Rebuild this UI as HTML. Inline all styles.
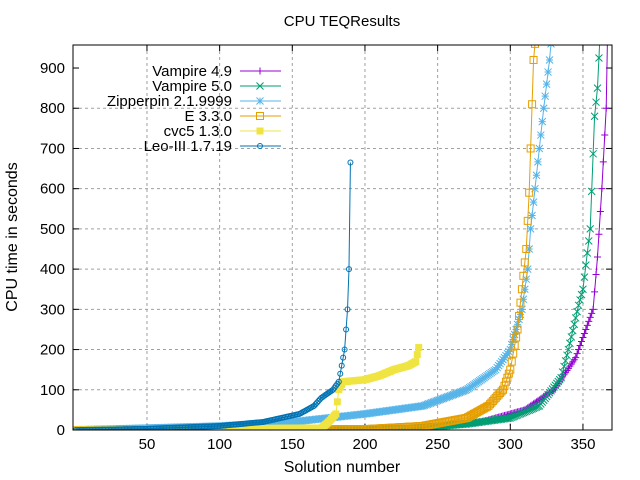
<!DOCTYPE html>
<html><head><meta charset="utf-8"><style>body{margin:0;background:#fff}svg{display:block;font-family:"Liberation Sans",sans-serif}</style></head>
<body>
<svg id="s" width="640" height="480" xmlns="http://www.w3.org/2000/svg">
<defs><clipPath id="c"><rect x="73" y="45" width="539" height="385"/></clipPath></defs>
<rect width="640" height="480" fill="#fff"/>
<g id="grid" stroke="#a0a0a0" stroke-dasharray="3,3" stroke-width="1"></g>
<g id="ticks" font-size="15" fill="#000"></g>
<g id="series" clip-path="url(#c)"></g>
<rect x="73" y="45" width="539" height="385" fill="none" stroke="#000"/>
<text x="342" y="26" font-size="15" text-anchor="middle">CPU TEQResults</text>
<text x="342" y="472" font-size="16" text-anchor="middle">Solution number</text>
<text transform="translate(17,237) rotate(-90)" font-size="16" text-anchor="middle">CPU time in seconds</text>
<g id="legend" font-size="15"></g>
</svg>
<script>
const NS="http://www.w3.org/2000/svg";
const X=n=>74.3+1.4533*n, Y=v=>430-0.4022*v;
function el(t,a,p){const e=document.createElementNS(NS,t);for(const k in a)e.setAttribute(k,a[k]);p.appendChild(e);return e;}
const g=document.getElementById('grid'),tk=document.getElementById('ticks');
for(let v=0;v<=900;v+=100){const y=Y(v);if(v>0&&v<900)el('line',{x1:73,x2:612,y1:y,y2:y},g);
el('line',{x1:73,x2:79,y1:y,y2:y,stroke:'#000'},tk);el('line',{x1:606,x2:612,y1:y,y2:y,stroke:'#000'},tk);
el('text',{x:65,y:y+5,'text-anchor':'end'},tk).textContent=v;}
for(let n=50;n<=350;n+=50){const x=X(n);el('line',{x1:x,x2:x,y1:45,y2:430},g);
el('line',{x1:x,x2:x,y1:430,y2:424,stroke:'#000'},tk);el('line',{x1:x,x2:x,y1:45,y2:51,stroke:'#000'},tk);
el('text',{x:x,y:449,'text-anchor':'middle'},tk).textContent=n;}
const S=[
["Vampire 4.9","#9400d3","plus",[[1,0],[230,3],[280,20],[310,50],[330,100],[345,180],[352,250],[357,300],[360,430],[363,600],[366,800],[367,1000]]],
["Vampire 5.0","#009e73","x",[[1,0],[230,3],[270,15],[300,30],[320,60],[335,130],[340,200],[347,310],[350,350],[355,500],[358,780],[360,850],[362,1000]]],
["Zipperpin 2.1.9999","#56b4e9","star",[[1,0],[100,10],[150,20],[200,40],[240,60],[270,100],[290,150],[300,200],[308,300],[312,400],[314,500],[317,600],[320,700],[323,800],[327,920],[329,1000]]],
["E 3.3.0","#e69f00","box",[[1,0],[200,2],[240,10],[270,30],[285,60],[295,100],[300,150],[305,250],[308,350],[311,450],[313,590],[316,920],[318,1000]]],
["cvc5 1.3.0","#f0e442","fbox",[[1,0],[170,5],[175,20],[180,40],[182,100],[185,120],[200,125],[210,135],[220,150],[230,160],[235,170],[237,205]]],
["Leo-III 1.7.19","#0072b2","circ",[[1,0],[50,3],[100,10],[130,20],[155,40],[165,60],[170,80],[178,100],[182,120],[186,200],[188,300],[189,400],[190,665]]]];
function interp(k,n){for(let i=1;i<k.length;i++)if(n<=k[i][0]){const a=k[i-1],b=k[i];return a[1]+(b[1]-a[1])*(n-a[0])/(b[0]-a[0]);}return k[k.length-1][1];}
function mark(t,x,y,c,p){const s=3.5;
if(t=="plus"){el('path',{d:`M${x-s} ${y}H${x+s}M${x} ${y-s}V${y+s}`,stroke:c,fill:'none'},p);}
else if(t=="x"){el('path',{d:`M${x-s} ${y-s}L${x+s} ${y+s}M${x-s} ${y+s}L${x+s} ${y-s}`,stroke:c,fill:'none'},p);}
else if(t=="star"){el('path',{d:`M${x-s} ${y}H${x+s}M${x} ${y-s}V${y+s}M${x-s} ${y-s}L${x+s} ${y+s}M${x-s} ${y+s}L${x+s} ${y-s}`,stroke:c,fill:'none'},p);}
else if(t=="box"){el('rect',{x:x-3.5,y:y-3.5,width:7,height:7,stroke:c,fill:'none'},p);}
else if(t=="fbox"){el('rect',{x:x-3.5,y:y-3.5,width:7,height:7,fill:c},p);}
else{el('circle',{cx:x,cy:y,r:2.5,stroke:c,fill:'none'},p);}}
const sg=document.getElementById('series'),lg=document.getElementById('legend');
S.forEach((s,i)=>{const k=s[3],last=k[k.length-1][0];let pts=[];
for(let n=1;n<=last;n++)pts.push([X(n),Y(interp(k,n))]);
el('polyline',{points:pts.map(p=>p.join(',')).join(' '),fill:'none',stroke:s[1],'stroke-width':1},sg);
pts.forEach(p=>{if(p[1]>40)mark(s[2],p[0],p[1],s[1],sg);});
const ly=71+i*15;el('text',{x:232,y:ly+5,'text-anchor':'end'},lg).textContent=s[0];
el('line',{x1:240,x2:281,y1:ly,y2:ly,stroke:s[1]},lg);mark(s[2],260,ly,s[1],lg);});
</script>
</body></html>
